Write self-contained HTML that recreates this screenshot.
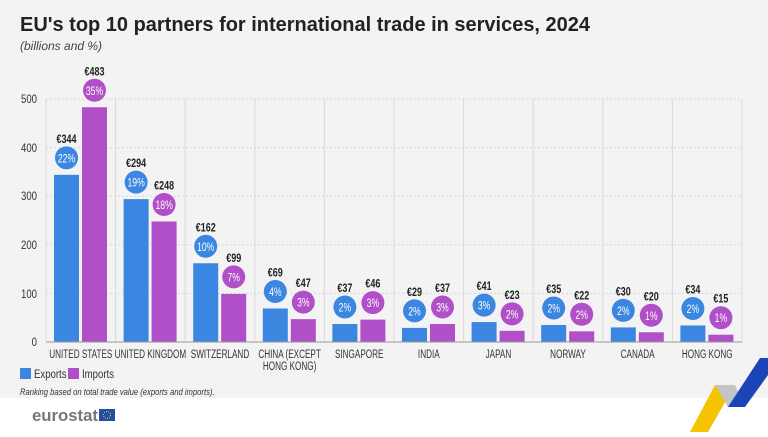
<!DOCTYPE html>
<html><head><meta charset="utf-8"><style>
body{margin:0;width:768px;height:432px;overflow:hidden;background:#fff;font-family:"Liberation Sans",sans-serif}
</style></head><body>
<svg width="768" height="432" xmlns="http://www.w3.org/2000/svg" font-family="Liberation Sans, sans-serif">
<rect x="0" y="0" width="768" height="398" fill="#f3f3f3"/>
<text x="20" y="31" font-size="20" font-weight="bold" fill="#222" textLength="570" lengthAdjust="spacingAndGlyphs">EU's top 10 partners for international trade in services, 2024</text>
<text x="20" y="50" font-size="12" font-style="italic" fill="#444">(billions and %)</text>
<g stroke="#d8d8d8" stroke-width="1" stroke-dasharray="2,2">
<line x1="46" y1="99" x2="742" y2="99"/><line x1="46" y1="147.6" x2="742" y2="147.6"/><line x1="46" y1="196.2" x2="742" y2="196.2"/><line x1="46" y1="244.8" x2="742" y2="244.8"/><line x1="46" y1="293.4" x2="742" y2="293.4"/>
</g>
<g stroke="#d8d8d8" stroke-width="1" id="vl"></g>
<g font-size="12" fill="#333" text-anchor="end">
<text transform="translate(37,103) scale(0.8,1)">500</text><text transform="translate(37,152) scale(0.8,1)">400</text><text transform="translate(37,200) scale(0.8,1)">300</text><text transform="translate(37,249) scale(0.8,1)">200</text><text transform="translate(37,298) scale(0.8,1)">100</text><text transform="translate(37,346) scale(0.8,1)">0</text>
</g>
<g id="bars"></g>
<line x1="46" y1="342" x2="742" y2="342" stroke="#999"/>
<rect x="20" y="368" width="11" height="11" fill="#3a86e0"/><text transform="translate(34,378) scale(0.8,1)" font-size="12" fill="#333">Exports</text>
<rect x="68" y="368" width="11" height="11" fill="#b04fc8"/><text transform="translate(82,378) scale(0.8,1)" font-size="12" fill="#333">Imports</text>
<text transform="translate(20,395) scale(0.85,1)" font-size="9" font-style="italic" fill="#333">Ranking based on total trade value (exports and imports).</text>
<text x="32" y="421" font-size="17" font-weight="bold" fill="#777" textLength="66" lengthAdjust="spacingAndGlyphs">eurostat</text>
<rect x="99" y="409" width="16" height="12" fill="#1f4fa8"/>
<circle cx="107" cy="415" r="3.5" fill="none" stroke="#f5d000" stroke-width="1" stroke-dasharray="1,1.2"/>
<polygon points="690,432 715,385 735,385 708,432" fill="#f5c400"/>
<polygon points="715,385 735,385 745,407 728,407" fill="#c4c4c4"/>
<polygon points="728,407 745,407 768,375 768,358 760,358" fill="#1a44b8"/>
</svg>
<script>
var d=[["UNITED STATES",344,483,"22%","35%"],["UNITED KINGDOM",294,248,"19%","18%"],["SWITZERLAND",162,99,"10%","7%"],["CHINA (EXCEPT|HONG KONG)",69,47,"4%","3%"],["SINGAPORE",37,46,"2%","3%"],["INDIA",29,37,"2%","3%"],["JAPAN",41,23,"3%","2%"],["NORWAY",35,22,"2%","2%"],["CANADA",30,20,"2%","1%"],["HONG KONG",34,15,"2%","1%"]];
var ns="http://www.w3.org/2000/svg",g=document.getElementById("bars"),vl=document.getElementById("vl");
function el(t,a,p,tx){var e=document.createElementNS(ns,t);for(var k in a)e.setAttribute(k,a[k]);if(tx)e.textContent=tx;(p||g).appendChild(e);return e;}
function tr(x,y,s){return "translate("+x+","+y+") scale("+s+",1)";}
for(var i=0;i<=10;i++){var x=46+69.6*i;el("line",{x1:x,y1:99,x2:x,y2:342},vl);}
d.forEach(function(r,i){var s=46+69.6*i;
[[r[1],r[3],"#3a86e0",s+8],[r[2],r[4],"#b04fc8",s+36]].forEach(function(b){
var top=342-b[0]*0.486,cx=b[3]+12.5;
el("rect",{x:b[3],y:top,width:25,height:342-top,fill:b[2]});
el("circle",{cx:cx,cy:top-17,r:11.5,fill:b[2]});
el("text",{transform:tr(cx,top-12.5,0.72),"font-size":12,fill:"#fff","text-anchor":"middle"},null,b[1]);
el("text",{transform:tr(cx,top-32,0.75),"font-size":12,"font-weight":"bold",fill:"#222","text-anchor":"middle"},null,"€"+b[0]);
});
r[0].split("|").forEach(function(l,j){el("text",{transform:tr(s+34.8,358+j*12,0.68),"font-size":12,fill:"#333","text-anchor":"middle"},null,l);});
});
</script>
</body></html>
